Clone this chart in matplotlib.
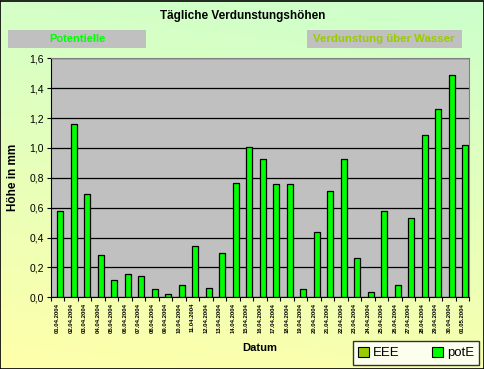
import numpy as np
import matplotlib.pyplot as plt
from matplotlib.patches import Patch, Rectangle

# Daten
datum = ['01.04.2004', '02.04.2004', '03.04.2004', '04.04.2004', '05.04.2004',
         '06.04.2004', '07.04.2004', '08.04.2004', '09.04.2004', '10.04.2004',
         '11.04.2004', '12.04.2004', '13.04.2004', '14.04.2004', '15.04.2004',
         '16.04.2004', '17.04.2004', '18.04.2004', '19.04.2004', '20.04.2004',
         '21.04.2004', '22.04.2004', '23.04.2004', '24.04.2004', '25.04.2004',
         '26.04.2004', '27.04.2004', '28.04.2004', '29.04.2004', '30.04.2004',
         '01.05.2004']
potE = [0.576, 1.158, 0.69, 0.281, 0.114, 0.154, 0.14, 0.054, 0.02, 0.08,
        0.341, 0.06, 0.295, 0.763, 1.004, 0.924, 0.757, 0.757, 0.054, 0.435,
        0.71, 0.924, 0.261, 0.033, 0.576, 0.08, 0.529, 1.085, 1.259, 1.487,
        1.018]
yticks = [0.0, 0.2, 0.4, 0.6, 0.8, 1.0, 1.2, 1.4, 1.6]

plt.rcParams['font.family'] = ['Liberation Sans', 'DejaVu Sans']

W, H = 485, 369
fig = plt.figure(figsize=(W / 100, H / 100), dpi=100)

# Hintergrund mit Farbverlauf (oben grün, unten gelb)
bg = fig.add_axes([0, 0, 1, 1], zorder=-10)
rows = np.linspace(0, 1, 200)[:, None]
cols = np.linspace(0, 1, 200)[None, :]
t = np.clip(rows * 0.85 + (1 - cols) * 0.15, 0, 1)
top = np.array([0xCC, 0xFF, 0xCC]) / 255
bot = np.array([0xFF, 0xFF, 0xAA]) / 255
img = top[None, None, :] * (1 - t[..., None]) + bot[None, None, :] * t[..., None]
bg.imshow(img, aspect='auto', extent=[0, 1, 0, 1])
bg.set_xlim(0, 1)
bg.set_ylim(0, 1)
bg.axis('off')
bg.add_patch(Rectangle((0.001, 0.001), 0.997, 0.997, fill=False, ec='black', lw=1.2))

# Plotbereich
ax = fig.add_axes([50.7 / W, 1 - 297.3 / H, (469.3 - 50.7) / W, (297.3 - 58.3) / H])
ax.set_facecolor('#C0C0C0')
x = np.arange(len(datum))
ax.bar(x + 0.21, potE, width=0.44, color='#00FF00', edgecolor='black', lw=0.9, zorder=3)

ax.set_xlim(-0.5, len(datum) - 0.5)
ax.set_ylim(0, 1.6)
ax.set_yticks(yticks)
ax.set_yticklabels([f'{v:.1f}'.replace('.', ',') for v in yticks], fontsize=7.5)
ax.yaxis.grid(True, color='black', lw=0.9, zorder=1)
ax.set_axisbelow(True)

ax.set_xticks(x)
ax.set_xticklabels(datum, rotation=90, fontsize=4.2, fontweight='bold')
ax.set_xticks(np.arange(len(datum) + 1) - 0.5, minor=True)
ax.tick_params(axis='x', which='major', length=0, pad=4)
ax.tick_params(axis='x', which='minor', length=3, width=0.8, direction='out')
ax.tick_params(axis='y', length=3, width=0.8, direction='out', pad=2)

for side in ['top', 'right']:
    ax.spines[side].set_color('#808080')
for side in ['left', 'bottom']:
    ax.spines[side].set_color('black')

ax.set_ylabel('Höhe in mm', fontsize=8.5, fontweight='bold')
ax.yaxis.set_label_coords(-0.075, 0.5)

# Texte
fig.text(242.5 / W, 1 - 15.7 / H, 'Tägliche Verdunstungshöhen', ha='center', va='center',
         fontsize=8.5, fontweight='bold')
fig.text(260 / W, 1 - 348 / H, 'Datum', ha='center', va='center', fontsize=8, fontweight='bold')

fig.patches.append(Rectangle((8 / W, 1 - 48 / H), 138 / W, 18 / H, transform=fig.transFigure,
                             fc='#C0C0C0', ec='none'))
fig.patches.append(Rectangle((307 / W, 1 - 48 / H), 155 / W, 18 / H, transform=fig.transFigure,
                             fc='#C0C0C0', ec='none'))
fig.text(77 / W, 1 - 39 / H, 'Potentielle', ha='center', va='center',
         fontsize=8, fontweight='bold', color='#00FF00')
fig.text(384 / W, 1 - 39 / H, 'Verdunstung über Wasser', ha='center', va='center',
         fontsize=8.2, fontweight='bold', color='#99CC00')

# Legende
handles = [Patch(fc='#99CC00', ec='black', lw=0.8, label='EEE'),
           Patch(fc='#00FF00', ec='black', lw=0.8, label='potE')]
leg = fig.legend(handles=handles, loc='center', bbox_to_anchor=(416 / W, 1 - 353 / H),
                 ncol=2, fontsize=9.5, frameon=True, fancybox=False, handlelength=0.8,
                 handleheight=0.8, handletextpad=0.3, columnspacing=2.5, borderpad=0.4)
leg.get_frame().set_edgecolor('black')
leg.get_frame().set_linewidth(1)

fig.savefig('out.png', dpi=100)
